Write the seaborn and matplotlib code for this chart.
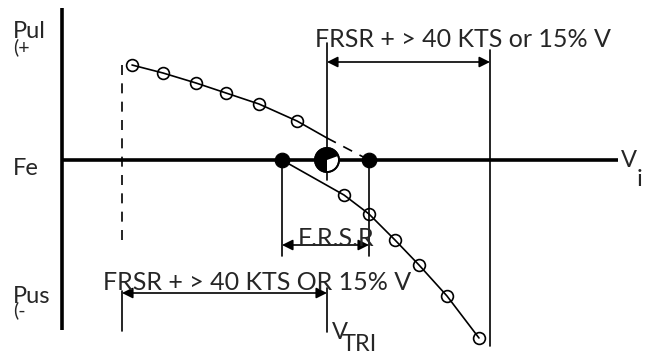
import matplotlib
matplotlib.use("Agg")
import matplotlib.pyplot as plt
from matplotlib.patches import Circle, Wedge
import seaborn as sns

sns.set_style("white")
plt.rcParams['font.family'] = ['Lato', 'DejaVu Sans']

# ---- data (speed units along V_i, stick force: + pull / - push) ----
upper_speed = [132, 163, 196, 226, 259, 297, 327]
upper_force = [95, 87, 77, 67, 56, 39, 22]
upper_dash_speed = [327, 369]
upper_dash_force = [22, 0]

lower_speed = [282, 344, 369, 395, 419, 447, 479]
lower_force = [0, -35, -54, -80, -105, -136, -178]

trim_points = [282, 369]   # filled dots on the axis
cg_speed = 327             # neutral / trim symbol
frsr_left, frsr_right = 282, 369
vmax_line = 490
vmin_line = 122

top_label = "FRSR + > 40 KTS or 15% V"
mid_label = "F.R.S.R"
bot_label = "FRSR + > 40 KTS OR 15% V"

fig = plt.figure(figsize=(6.46, 3.56), dpi=100)
ax = fig.add_axes([0, 0, 1, 1])
ax.set_xlim(0, 646)
ax.set_ylim(-196, 160)
ax.axis('off')

lw = 1.2
# axes
ax.plot([62, 62], [152, -170], color='black', lw=2.6, solid_capstyle='butt')
ax.plot([62, 618], [0, 0], color='black', lw=2.6, solid_capstyle='butt')

# upper curve
sns.lineplot(x=upper_speed, y=upper_force, ax=ax, color='black', lw=lw,
             marker='o', ms=8.5, mfc='none', mec='black', mew=1.2,
             markevery=list(range(6)), sort=False)
sns.lineplot(x=upper_dash_speed, y=upper_dash_force, ax=ax, color='black', lw=lw,
             linestyle=(0, (6, 5)), sort=False)

# lower curve
sns.lineplot(x=lower_speed, y=lower_force, ax=ax, color='black', lw=lw,
             marker='o', ms=8.5, mfc='none', mec='black', mew=1.2,
             markevery=list(range(1, 7)), sort=False)

# filled dots
sns.scatterplot(x=trim_points, y=[0, 0], ax=ax, color='black', s=110, edgecolor='black', zorder=5)

# vertical guide lines
ax.plot([vmin_line, vmin_line], [95, -83], color='black', lw=lw, linestyle=(0, (6, 5)))
ax.plot([vmin_line, vmin_line], [-131, -171], color='black', lw=lw)
ax.plot([cg_speed, cg_speed], [117, -20], color='black', lw=lw)
ax.plot([cg_speed, cg_speed], [-128, -172], color='black', lw=lw)
ax.plot([vmax_line, vmax_line], [110, -186], color='black', lw=lw)
ax.plot([frsr_left, frsr_left], [0, -96], color='black', lw=lw)
ax.plot([frsr_right, frsr_right], [0, -96], color='black', lw=lw)

# arrows
ap = dict(arrowstyle='<|-|>', color='black', lw=lw, mutation_scale=16, shrinkA=0, shrinkB=0)
ax.annotate('', xy=(vmax_line, 98), xytext=(cg_speed, 98), arrowprops=ap)
ax.annotate('', xy=(frsr_right, -85), xytext=(frsr_left, -85), arrowprops=ap)
ax.annotate('', xy=(cg_speed, -133), xytext=(vmin_line, -133), arrowprops=ap)

# CG symbol
ax.add_patch(Circle((cg_speed, 0), 12, facecolor='white', edgecolor='black', lw=1.3, zorder=6))
ax.add_patch(Wedge((cg_speed, 0), 12, 90, 270, facecolor='black', edgecolor='black', lw=0, zorder=7))
ax.add_patch(Wedge((cg_speed, 0), 12, 20, 90, facecolor='black', edgecolor='black', lw=0, zorder=7))
ax.add_patch(Circle((cg_speed, 0), 12, facecolor='none', edgecolor='black', lw=1.3, zorder=8))

fs = 17
fl = 18
ax.text(315, 113, top_label, fontsize=fl, va='baseline', ha='left')
ax.text(298, -86, mid_label, fontsize=fl, va='baseline', ha='left')
ax.text(103, -130, bot_label, fontsize=fl, va='baseline', ha='left')

ax.text(13, 107, "(+", fontsize=14, va='baseline', ha='left')
ax.text(13, 122, "Pul", fontsize=fs, va='baseline', ha='left')
ax.text(13, -15, "Fe", fontsize=fs, va='baseline', ha='left')
ax.text(13, -156, "(-", fontsize=14, va='baseline', ha='left')
ax.text(13, -143, "Pus", fontsize=fs, va='baseline', ha='left')
ax.text(621, -7, "V", fontsize=fs, va='baseline', ha='left')
ax.text(637, -26, "i", fontsize=fs, va='baseline', ha='left')
ax.text(332, -179, "V", fontsize=fs, va='baseline', ha='left')
ax.text(342, -191, "TRI", fontsize=fs, va='baseline', ha='left')

fig.savefig("out.png", dpi=100)
